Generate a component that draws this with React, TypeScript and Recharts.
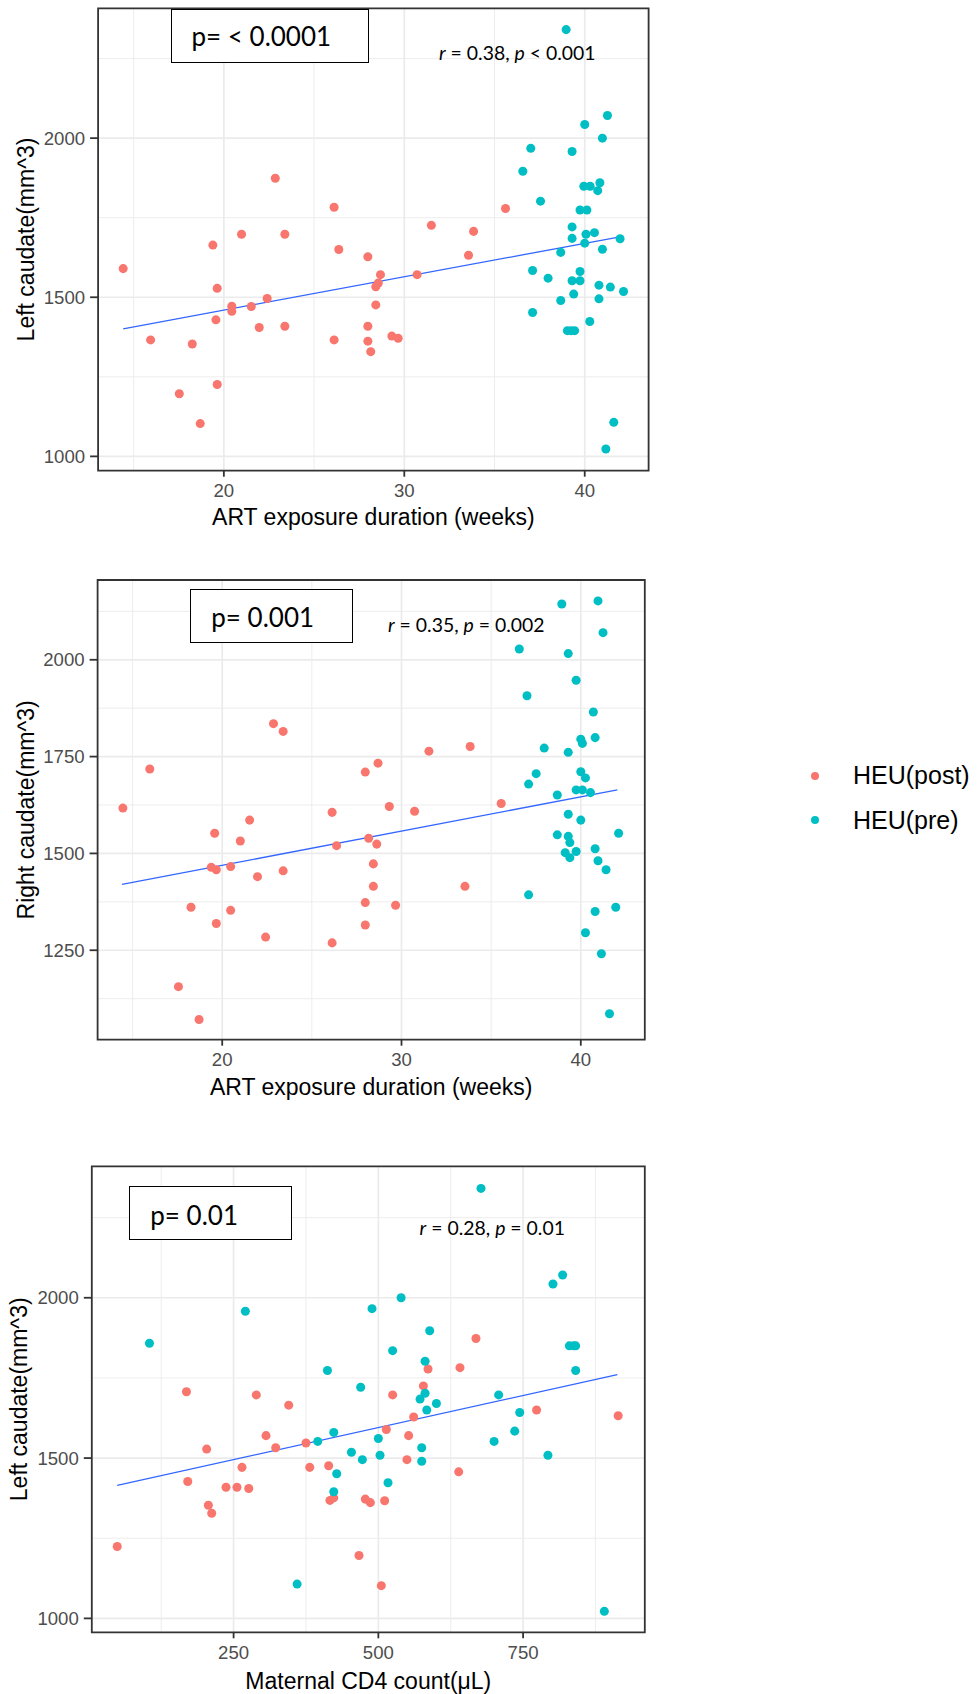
import React from "react";
import {
  ScatterChart,
  Scatter,
  XAxis,
  YAxis,
  ZAxis,
  CartesianGrid,
  ReferenceLine,
  ReferenceArea,
  Legend,
} from "recharts";

type Pt = [number, number];

// ggplot default hues
const POST = "#F8766D";
const PRE = "#00BFC4";
const TREND = "#3366FF";

const AXIS_FONT = '"Liberation Sans", Arial, sans-serif';
const NOTE_FONT = 'Lato, "Open Sans", sans-serif';

// Panel 1: left caudate vs ART exposure duration (weeks)
const leftArtPost: Pt[] = [
  [14.42, 1590], [15.94, 1366], [17.53, 1197], [18.25, 1353], [18.69, 1103],
  [19.39, 1664], [19.63, 1528], [19.56, 1429], [19.63, 1226], [20.44, 1472],
  [20.44, 1456], [20.98, 1698], [21.52, 1471], [21.96, 1405], [22.4, 1496],
  [22.85, 1874], [23.38, 1698], [23.38, 1409], [26.11, 1783], [26.37, 1650],
  [26.11, 1366], [27.98, 1627], [27.98, 1409], [27.98, 1362], [28.14, 1329],
  [28.68, 1571], [28.56, 1545], [28.42, 1533], [28.42, 1476], [29.31, 1378],
  [29.66, 1371], [30.71, 1571], [31.5, 1726], [33.56, 1632], [33.84, 1707],
  [35.61, 1779],
];
const leftArtPre: Pt[] = [
  [38.97, 2341], [41.26, 2071], [40.0, 2043], [40.98, 2000], [37.01, 1968],
  [39.3, 1958], [36.57, 1896], [39.95, 1849], [40.3, 1849], [40.84, 1860],
  [40.72, 1835], [37.55, 1802], [39.74, 1774], [40.12, 1774], [39.3, 1721],
  [39.3, 1685], [40.07, 1698], [40.54, 1703], [40.0, 1670], [41.96, 1684],
  [40.98, 1651], [38.67, 1641], [37.11, 1584], [39.74, 1581], [37.97, 1560],
  [39.3, 1552], [39.74, 1552], [40.79, 1538], [41.42, 1532], [42.15, 1518],
  [39.39, 1510], [38.67, 1490], [40.79, 1495], [37.11, 1452], [40.28, 1424],
  [39.04, 1395], [39.25, 1395], [39.44, 1395], [41.61, 1107], [41.17, 1023],
];
const leftArtFit: Pt[] = [[14.42, 1401], [41.96, 1690]];

// Panel 2: right caudate vs ART exposure duration (weeks)
const rightArtPost: Pt[] = [
  [14.46, 1617], [15.96, 1718], [17.56, 1156], [18.26, 1361], [18.71, 1071],
  [19.58, 1552], [19.39, 1464], [19.67, 1458], [19.67, 1319], [20.47, 1466],
  [20.47, 1353], [21.01, 1532], [21.53, 1586], [21.97, 1440], [22.42, 1284],
  [22.86, 1835], [23.4, 1815], [23.4, 1455], [26.13, 1606], [26.38, 1520],
  [26.13, 1269], [27.98, 1710], [28.17, 1539], [27.98, 1373], [27.98, 1315],
  [28.69, 1733], [28.62, 1524], [28.43, 1473], [28.43, 1415], [29.32, 1621],
  [29.67, 1366], [30.73, 1609], [31.53, 1764], [33.83, 1776], [33.54, 1415],
  [35.56, 1629],
];
const rightArtPre: Pt[] = [
  [38.94, 2144], [40.96, 2152], [41.24, 2070], [36.57, 2028], [39.3, 2016],
  [39.74, 1947], [37.0, 1907], [40.7, 1865], [40.0, 1795], [40.8, 1799],
  [40.09, 1784], [37.96, 1772], [39.3, 1761], [40.0, 1711], [37.51, 1706],
  [40.26, 1695], [37.09, 1679], [39.74, 1664], [40.09, 1664], [40.54, 1657],
  [38.69, 1651], [39.3, 1601], [40.0, 1586], [42.11, 1552], [38.69, 1548],
  [39.3, 1544], [39.39, 1528], [39.13, 1502], [39.74, 1505], [39.39, 1489],
  [40.8, 1512], [40.96, 1481], [41.41, 1458], [37.09, 1393], [41.95, 1361],
  [40.8, 1350], [40.26, 1295], [41.15, 1241], [41.6, 1086],
];
const rightArtFit: Pt[] = [[14.41, 1420], [42.04, 1664]];

// Panel 3: left caudate vs maternal CD4 count
const leftCd4Post: Pt[] = [
  [49, 1224], [168.6, 1707], [170.8, 1427], [203.5, 1528], [206.4, 1353],
  [212.2, 1328], [236.9, 1409], [255.8, 1409], [264.5, 1471], [276.2, 1405],
  [289.2, 1697], [306.0, 1570], [322.7, 1532], [345.2, 1665], [375.0, 1547],
  [381.5, 1471], [414.2, 1476], [416.4, 1368], [423.0, 1376], [466.6, 1196],
  [477.5, 1372], [486.2, 1361], [505.1, 1102], [510.9, 1367], [513.8, 1589],
  [524.7, 1697], [549.4, 1495], [552.3, 1570], [561.0, 1628], [577.8, 1725],
  [585.8, 1778], [638.8, 1457], [641.0, 1782], [668.6, 1873], [773.3, 1650],
  [914.2, 1632],
];
const leftCd4Pre: Pt[] = [
  [104.7, 1858], [270.3, 1958], [359.7, 1107], [395.3, 1552], [412.1, 1773],
  [423.0, 1580], [428.1, 1451], [423.0, 1395], [453.5, 1518], [469.5, 1721],
  [472.4, 1495], [489.1, 1966], [500.0, 1561], [502.9, 1509], [516.7, 1423],
  [524.7, 1835], [539.3, 2000], [572.0, 1684], [580.7, 1702], [574.9, 1532],
  [574.9, 1490], [580.7, 1802], [583.6, 1650], [588.7, 1897], [600.3, 1670],
  [677.3, 2341], [699.9, 1552], [707.8, 1697], [735.5, 1584], [744.2, 1642],
  [792.9, 1509], [801.6, 2043], [818.3, 2071], [829.9, 1850], [837.2, 1850],
  [840.8, 1850], [840.8, 1773], [890.3, 1022],
];
const leftCd4Fit: Pt[] = [[49, 1415], [912.8, 1760]];

// axis breaks (major + minor)
const weekTicks = [20, 30, 40];
const weekMinor = [15, 25, 35];
const volTicksA = [1000, 1500, 2000];
const volMinorA = [1250, 1750, 2250];
const volTicksB = [1250, 1500, 1750, 2000];
const volMinorB = [1125, 1375, 1625, 1875, 2125];
const cd4Ticks = [250, 500, 750];
const cd4Minor = [125, 375, 625, 875];

const X_AXIS_H = 60;

const toXY = (pts: Pt[]) => pts.map(([x, y]) => ({ x, y }));

function legendContent(props: any) {
  const items = props.payload || [];
  return (
    <div>
      {items.map((entry: any) => (
        <div
          key={entry.value}
          style={{ display: "flex", alignItems: "center", height: 44.3 }}
        >
          <svg width={20} height={20}>
            <circle cx={10} cy={10} r={4} fill={entry.color} />
          </svg>
          <span
            style={{
              marginLeft: 28,
              fontFamily: AXIS_FONT,
              fontSize: 25,
              color: "#000",
            }}
          >
            {entry.value}
          </span>
        </div>
      ))}
    </div>
  );
}

interface PanelProps {
  top: number;
  width: number;
  height: number;
  plotLeft: number;
  plotTop: number;
  plotRight: number;
  plotBottom: number;
  xDomain: [number, number];
  yDomain: [number, number];
  xTicks: number[];
  xMinor: number[];
  yTicks: number[];
  yMinor: number[];
  post: Pt[];
  pre: Pt[];
  fit: Pt[];
  xTitle: string;
  yTitle: string;
  yTitleX: number;
  xTitleOffset: number;
  legend?: boolean;
}

function Panel(p: PanelProps) {
  const margin = {
    top: p.plotTop - p.top,
    right: p.width - p.plotRight,
    left: 0,
    bottom: p.top + p.height - p.plotBottom - X_AXIS_H,
  };
  const tickLine = { stroke: "#333333", strokeWidth: 1.8 };
  const tickStyle = { fill: "#4D4D4D", fontSize: 18.6, fontFamily: AXIS_FONT };
  return (
    <div style={{ position: "absolute", left: 0, top: p.top, width: p.width, height: p.height }}>
      <ScatterChart width={p.width} height={p.height} margin={margin}>
        <CartesianGrid
          stroke="#EBEBEB"
          strokeWidth={0.9}
          horizontalValues={p.yMinor}
          verticalValues={p.xMinor}
        />
        <CartesianGrid
          stroke="#EBEBEB"
          strokeWidth={1.7}
          horizontalValues={p.yTicks}
          verticalValues={p.xTicks}
        />
        <XAxis
          type="number"
          dataKey="x"
          domain={p.xDomain}
          ticks={p.xTicks}
          allowDataOverflow
          height={X_AXIS_H}
          axisLine={false}
          tickSize={6}
          tickMargin={7}
          tickLine={tickLine}
          tick={tickStyle}
          label={{
            value: p.xTitle,
            position: "insideTop",
            offset: p.xTitleOffset,
            fill: "#000",
            fontSize: 23,
            fontFamily: AXIS_FONT,
          }}
        />
        <YAxis
          type="number"
          dataKey="y"
          domain={p.yDomain}
          ticks={p.yTicks}
          allowDataOverflow
          width={p.plotLeft}
          axisLine={false}
          tickSize={8}
          tickMargin={5}
          tickLine={tickLine}
          tick={tickStyle}
          label={{
            value: p.yTitle,
            angle: -90,
            position: "insideLeft",
            offset: p.yTitleX,
            fill: "#000",
            fontSize: 23,
            fontFamily: AXIS_FONT,
            style: { textAnchor: "middle" },
          }}
        />
        <ZAxis range={[48, 48]} />
        <Scatter name="HEU(post)" data={toXY(p.post)} fill={POST} isAnimationActive={false} />
        <Scatter name="HEU(pre)" data={toXY(p.pre)} fill={PRE} isAnimationActive={false} />
        <ReferenceLine
          segment={[
            { x: p.fit[0][0], y: p.fit[0][1] },
            { x: p.fit[1][0], y: p.fit[1][1] },
          ]}
          stroke={TREND}
          strokeWidth={1.3}
          ifOverflow="visible"
        />
        <ReferenceArea
          x1={p.xDomain[0]}
          x2={p.xDomain[1]}
          y1={p.yDomain[0]}
          y2={p.yDomain[1]}
          fill="none"
          stroke="#333333"
          strokeWidth={1.8}
          ifOverflow="visible"
        />
        {p.legend && (
          <Legend
            layout="vertical"
            align="center"
            verticalAlign="middle"
            wrapperStyle={{ left: 805, top: 193.7, width: 172 }}
            content={legendContent}
          />
        )}
      </ScatterChart>
    </div>
  );
}

function PBox(props: {
  box: [number, number, number, number];
  textLeft: number;
  baseline: number;
  text: string;
}) {
  const [l, t, r, b] = props.box;
  const fs = 26;
  return (
    <>
      <div
        style={{
          position: "absolute",
          left: l,
          top: t,
          width: r - l,
          height: b - t,
          boxSizing: "border-box",
          border: "1.5px solid #000",
          background: "#fff",
        }}
      />
      <div
        style={{
          position: "absolute",
          left: props.textLeft,
          top: props.baseline - 0.987 * fs,
          fontFamily: NOTE_FONT,
          fontSize: fs,
          lineHeight: `${fs * 1.2}px`,
          whiteSpace: "nowrap",
          color: "#000",
        }}
      >
        {props.text}
      </div>
    </>
  );
}

function StatText(props: { left: number; baseline: number; r: string; rel: string; p: string }) {
  const fs = 19.4;
  return (
    <div
      style={{
        position: "absolute",
        left: props.left,
        top: props.baseline - 0.987 * fs,
        fontFamily: NOTE_FONT,
        fontSize: fs,
        lineHeight: `${fs * 1.2}px`,
        whiteSpace: "nowrap",
        color: "#000",
      }}
    >
      <i>r</i> = {props.r}, <i>p</i> {props.rel} {props.p}
    </div>
  );
}

export default function App() {
  return (
    <div
      style={{
        position: "absolute",
        left: 0,
        top: 0,
        width: 977,
        height: 1694,
        background: "#fff",
        overflow: "hidden",
      }}
    >
      <Panel
        top={0}
        width={680}
        height={540}
        plotLeft={98.1}
        plotTop={8.3}
        plotRight={648.6}
        plotBottom={470.7}
        xDomain={[13.03, 43.54]}
        yDomain={[955, 2408]}
        xTicks={weekTicks}
        xMinor={weekMinor}
        yTicks={volTicksA}
        yMinor={volMinorA}
        post={leftArtPost}
        pre={leftArtPre}
        fit={leftArtFit}
        xTitle="ART exposure duration (weeks)"
        yTitle="Left caudate(mm^3)"
        yTitleX={26}
        xTitleOffset={38}
      />
      <Panel
        top={560}
        width={977}
        height={540}
        plotLeft={97.6}
        plotTop={580}
        plotRight={644.8}
        plotBottom={1039.7}
        xDomain={[13.05, 43.57]}
        yDomain={[1019, 2206]}
        xTicks={weekTicks}
        xMinor={weekMinor}
        yTicks={volTicksB}
        yMinor={volMinorB}
        post={rightArtPost}
        pre={rightArtPre}
        fit={rightArtFit}
        xTitle="ART exposure duration (weeks)"
        yTitle="Right caudate(mm^3)"
        yTitleX={26}
        xTitleOffset={38.5}
        legend
      />
      <Panel
        top={1150}
        width={680}
        height={544}
        plotLeft={91.8}
        plotTop={1166.3}
        plotRight={644.8}
        plotBottom={1632.3}
        xDomain={[5.1, 960.2]}
        yDomain={[956.6, 2410]}
        xTicks={cd4Ticks}
        xMinor={cd4Minor}
        yTicks={volTicksA}
        yMinor={volMinorA}
        post={leftCd4Post}
        pre={leftCd4Pre}
        fit={leftCd4Fit}
        xTitle="Maternal CD4 count(μL)"
        yTitle="Left caudate(mm^3)"
        yTitleX={19}
        xTitleOffset={40}
      />

      <PBox box={[170.5, 9.3, 368.7, 62.7]} textLeft={191.5} baseline={47} text="p= < 0.0001" />
      <PBox box={[190.2, 589.3, 353.1, 643]} textLeft={211.3} baseline={627.5} text="p= 0.001" />
      <PBox box={[129.2, 1186.1, 292.1, 1239.9]} textLeft={150.3} baseline={1225.5} text="p= 0.01" />

      <StatText left={439} baseline={60} r="0.38" rel="<" p="0.001" />
      <StatText left={388} baseline={632} r="0.35" rel="=" p="0.002" />
      <StatText left={419.6} baseline={1235.5} r="0.28" rel="=" p="0.01" />
    </div>
  );
}
